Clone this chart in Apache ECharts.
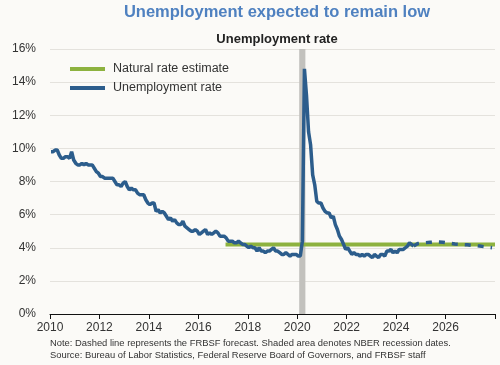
<!DOCTYPE html>
<html>
<head>
<meta charset="utf-8">
<script src="https://cdn.jsdelivr.net/npm/echarts@6/dist/echarts.min.js"></script>
<style>
html,body{margin:0;padding:0;background:#fbfaf7;}
#chart{width:500px;height:365px;}
</style>
</head>
<body>
<div id="chart"></div>
<script>
// Monthly unemployment rate, Jan 2010 – Sep 2024 (%)
var startYear = 2010;
var unemployment = [
  9.8, 9.8, 9.9, 9.9, 9.6, 9.4, 9.4, 9.5, 9.5, 9.4, 9.8, 9.3,
  9.1, 9.0, 9.0, 9.1, 9.0, 9.1, 9.0, 9.0, 9.0, 8.8, 8.6, 8.5,
  8.3, 8.3, 8.2, 8.2, 8.2, 8.2, 8.2, 8.0, 7.8, 7.8, 7.7, 7.9,
  8.0, 7.7, 7.5, 7.6, 7.5, 7.5, 7.3, 7.2, 7.2, 7.2, 6.9, 6.7,
  6.6, 6.7, 6.7, 6.2, 6.3, 6.1, 6.2, 6.1, 5.9, 5.7, 5.8, 5.6,
  5.7, 5.5, 5.4, 5.4, 5.6, 5.3, 5.2, 5.1, 5.0, 5.0, 5.1, 5.0,
  4.8, 4.9, 5.0, 5.1, 4.8, 4.9, 4.8, 4.9, 5.0, 4.9, 4.7, 4.7,
  4.7, 4.6, 4.4, 4.4, 4.4, 4.3, 4.3, 4.4, 4.3, 4.2, 4.2, 4.1,
  4.0, 4.1, 4.0, 4.0, 3.8, 4.0, 3.8, 3.8, 3.7, 3.8, 3.8, 3.9,
  4.0, 3.8, 3.8, 3.7, 3.6, 3.6, 3.7, 3.6, 3.5, 3.6, 3.6, 3.6,
  3.5, 3.5, 4.4, 14.8, 13.2, 11.0, 10.2, 8.4, 7.8, 6.8, 6.7, 6.7,
  6.4, 6.2, 6.1, 6.1, 5.8, 5.9, 5.4, 5.1, 4.7, 4.5, 4.2, 3.9,
  4.0, 3.8, 3.6, 3.7, 3.6, 3.6, 3.5, 3.6, 3.5, 3.6, 3.6, 3.5,
  3.4, 3.6, 3.5, 3.4, 3.6, 3.6, 3.5, 3.8, 3.8, 3.9, 3.7, 3.8,
  3.7, 3.9, 3.9, 3.9, 4.0, 4.1, 4.3, 4.2, 4.1
];
// FRBSF forecast (dashed), dates as decimal years
var forecastDates = [2024.71, 2024.88, 2025.13, 2025.38, 2025.63, 2025.88, 2026.13, 2026.38, 2026.63, 2026.88, 2027.13, 2027.38, 2027.63, 2027.88];
var forecastValues = [4.1, 4.25, 4.3, 4.33, 4.35, 4.33, 4.28, 4.23, 4.2, 4.18, 4.14, 4.1, 4.05, 4.0];
// Natural rate estimate
var naturalDates = [2017.1, 2028];
var naturalValues = [4.2, 4.2];
// NBER recession
var recessionStart = 2020.08, recessionEnd = 2020.33;
// Axis ticks
var yTicks = [0, 2, 4, 6, 8, 10, 12, 14, 16];
var xTickStart = 2010, xTickEnd = 2028, xTickStep = 2;

var urData = unemployment.map(function (v, i) { return [startYear + i / 12 + 1 / 24, v]; });
var fcData = forecastDates.map(function (d, i) { return [d, forecastValues[i]]; });
var nrData = naturalDates.map(function (d, i) { return [d, naturalValues[i]]; });

var blue = '#2c5d8c', green = '#8db23f';
var chart = echarts.init(document.getElementById('chart'), null, {renderer: 'canvas'});
chart.setOption({
  backgroundColor: '#fbfaf7',
  animation: false,
  textStyle: {fontFamily: 'Liberation Sans, Arial, sans-serif'},
  title: [
    {text: 'Unemployment expected to remain low', left: 272, top: -1, textAlign: 'center',
     textStyle: {color: '#4f81c0', fontSize: 16.5, fontWeight: 'bold', fontFamily: 'Liberation Sans, Arial, sans-serif'}},
    {text: 'Unemployment rate', left: 272, top: 28, textAlign: 'center',
     textStyle: {color: '#222', fontSize: 13, fontWeight: 'bold', fontFamily: 'Liberation Sans, Arial, sans-serif'}}
  ],
  legend: {
    orient: 'vertical', left: 65, top: 57, itemWidth: 35, itemHeight: 4, itemGap: 5,
    icon: 'rect',
    data: ['Natural rate estimate', 'Unemployment rate'],
    textStyle: {color: '#333', fontSize: 12.5, lineHeight: 14, padding: [0, 0, 0, 3], fontFamily: 'Liberation Sans, Arial, sans-serif'}
  },
  grid: {left: 50, right: 5, top: 49, bottom: 51, containLabel: false},
  xAxis: {
    type: 'value', min: xTickStart, max: xTickEnd, interval: xTickStep,
    axisLine: {show: true, lineStyle: {color: '#111', width: 1}},
    axisTick: {show: true, length: 5, lineStyle: {color: '#111'}},
    axisLabel: {color: '#333', fontSize: 12, margin: 8,
      formatter: function (v) { return v >= xTickEnd ? '' : String(v); }},
    splitLine: {show: false}
  },
  yAxis: {
    type: 'value', min: yTicks[0], max: yTicks[yTicks.length - 1], interval: 2,
    axisLine: {show: false}, axisTick: {show: false},
    axisLabel: {color: '#333', fontSize: 12, margin: 14, formatter: '{value}%'},
    splitLine: {show: true, lineStyle: {color: '#e4e2dd', width: 1}}
  },
  series: [
    {
      name: 'Recession', type: 'line', data: [], z: 1,
      markArea: {silent: true, itemStyle: {color: '#c2c1bd'},
        data: [[{xAxis: recessionStart, yAxis: 0}, {xAxis: recessionEnd, yAxis: 16}]]}
    },
    {
      name: 'Natural rate estimate', type: 'line', data: nrData, z: 2,
      showSymbol: false, lineStyle: {color: green, width: 4}, itemStyle: {color: green}
    },
    {
      name: 'Unemployment rate', type: 'line', data: urData, z: 3,
      showSymbol: false, lineStyle: {color: blue, width: 3.5}, itemStyle: {color: blue}
    },
    {
      name: 'Forecast', type: 'line', data: fcData, z: 3,
      showSymbol: false, lineStyle: {color: blue, width: 3.5, type: [6, 7]}, itemStyle: {color: blue}
    }
  ],
  graphic: [
    {type: 'text', left: 50, top: 339, style: {text: 'Note: Dashed line represents the FRBSF forecast. Shaded area denotes NBER recession dates.', fill: '#333', font: '9.4px Liberation Sans, Arial, sans-serif'}},
    {type: 'text', left: 50, top: 351, style: {text: 'Source: Bureau of Labor Statistics, Federal Reserve Board of Governors, and FRBSF staff', fill: '#333', font: '9.4px Liberation Sans, Arial, sans-serif'}}
  ]
});
</script>
</body>
</html>
